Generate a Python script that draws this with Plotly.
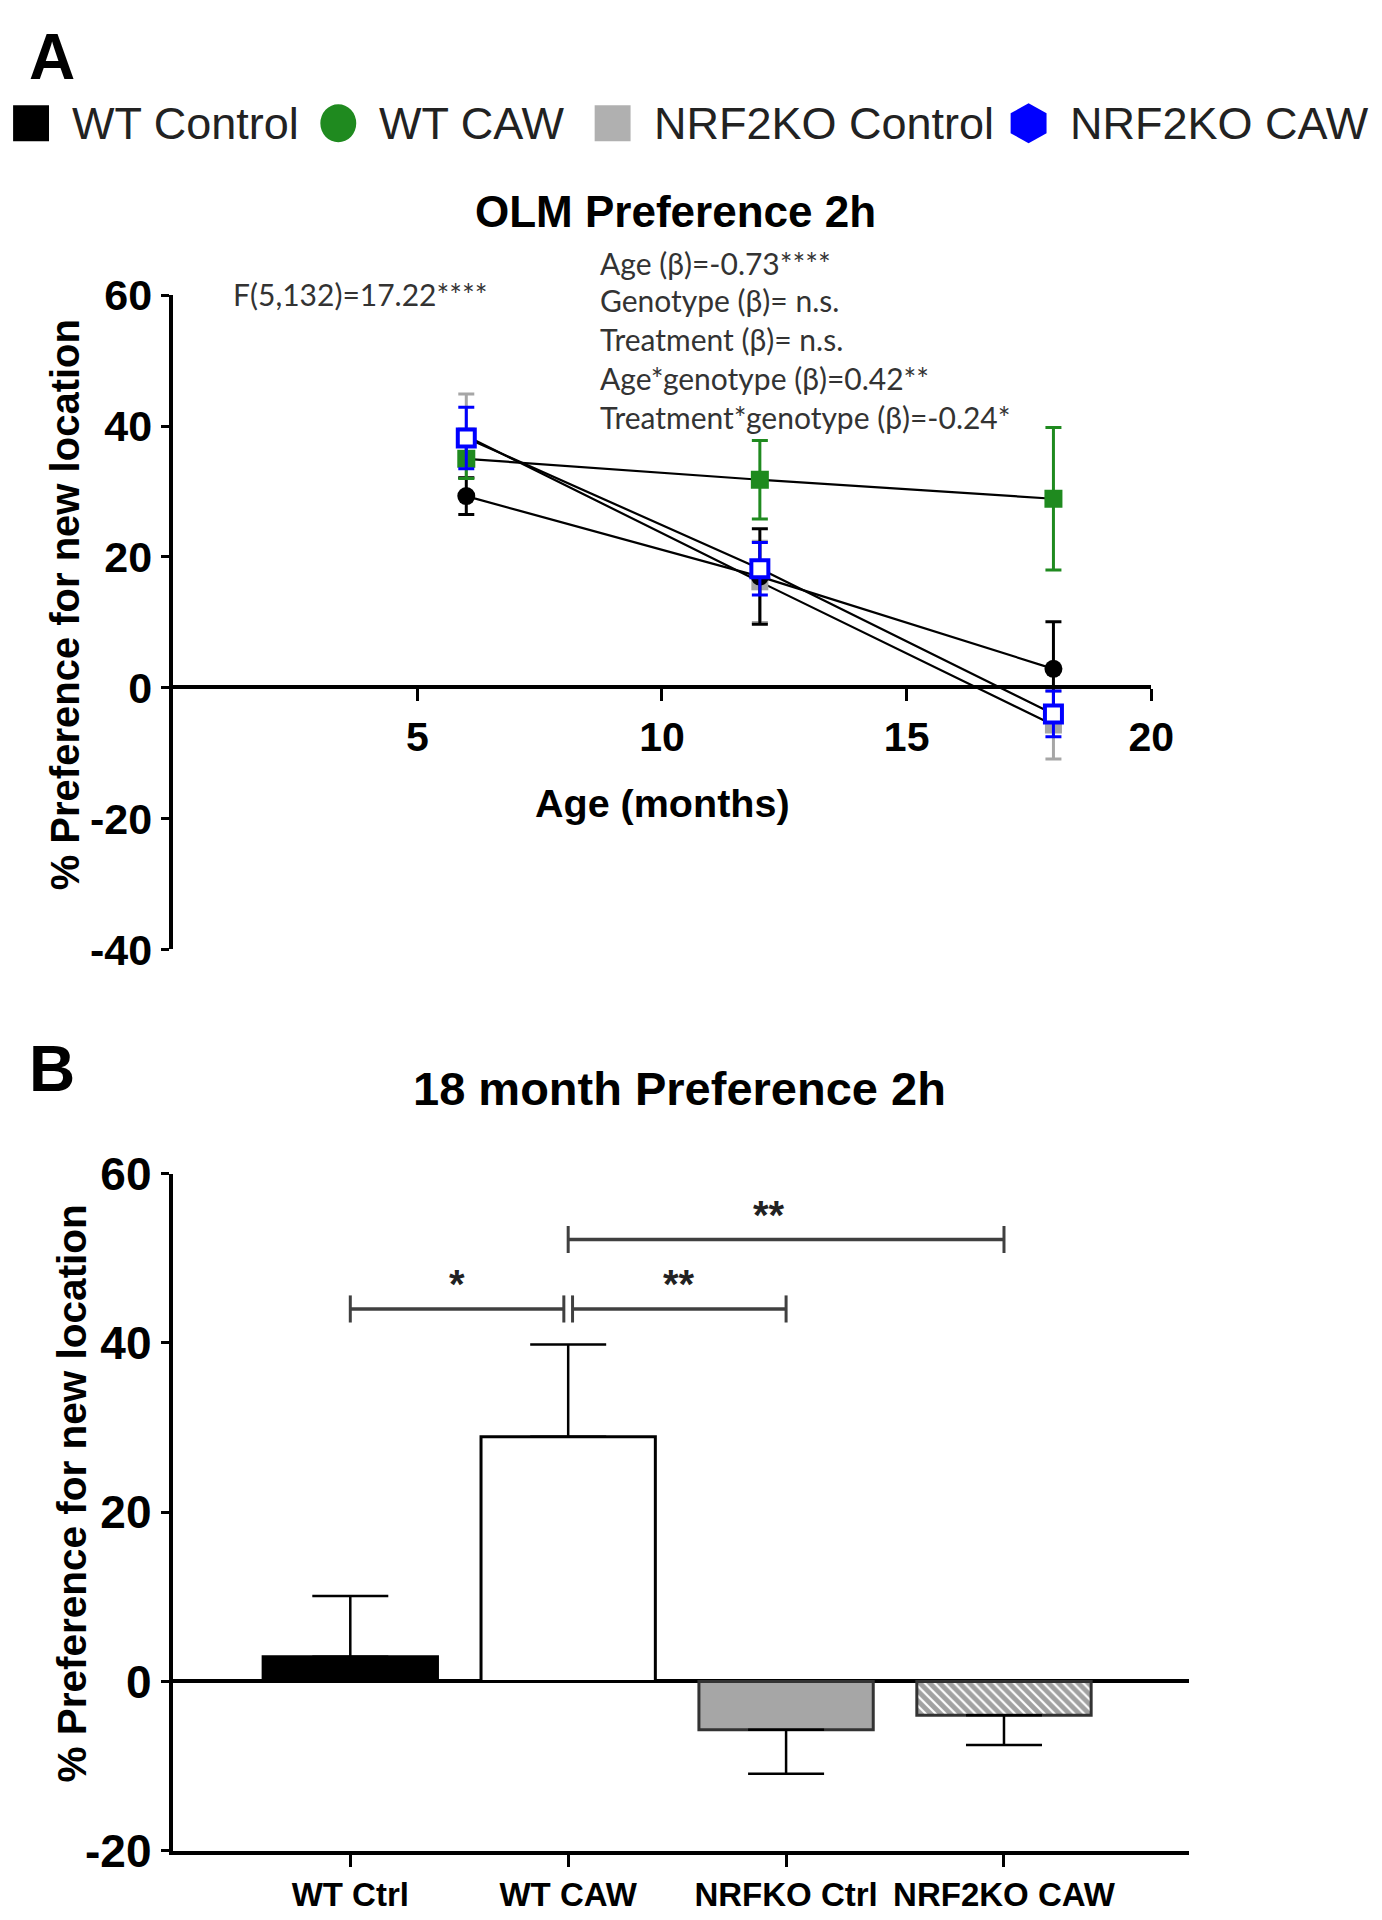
import plotly.graph_objects as go

# figure size (px) and mapping from the reference frame to figure pixels
FW, FH = 1400, 1945
SX, OX = 0.986, -2.0      # observed capture scale / offset (x)
SY, OY = 0.973, 26.0      # observed capture scale / offset (y)
PAD = 8                   # body margin

# ---------------- data ----------------
ages = [6, 12, 18]
wt_ctrl_mean = [29.3, 17.0, 2.9]
wt_ctrl_sem = [2.8, 7.3, 7.2]
wt_caw_mean = [35.0, 31.8, 28.9]
wt_caw_sem = [3.0, 6.0, 10.9]
ko_ctrl_mean = [38.5, 16.2, -5.7]
ko_ctrl_sem = [6.4, 6.2, 5.2]
ko_caw_mean = [38.2, 18.2, -4.0]
ko_caw_sem = [4.7, 4.0, 3.5]

legend_labels = ["WT Control", "WT CAW", "NRF2KO Control", "NRF2KO CAW"]

bar_cats = ["WT Ctrl", "WT CAW", "NRFKO Ctrl", "NRF2KO CAW"]
bar_means = [2.9, 28.9, -5.7, -4.0]
bar_sems = [7.2, 10.9, 5.2, 3.5]

age_ticks = [5, 10, 15, 20]
a_yticks = [-40, -20, 0, 20, 40, 60]
b_yticks = [-20, 0, 20, 40, 60]

f_stat = "F(5,132)=17.22****"
stats_lines = ["Age (β)=-0.73****", "Genotype (β)= n.s.", "Treatment (β)= n.s.",
               "Age*genotype (β)=0.42**", "Treatment*genotype (β)=-0.24*"]

# comparisons: (from index, to index, height, label)
comparisons = [(0, 1, 44.0, "*"), (1, 2, 44.0, "**"), (1, 3, 52.2, "**")]

# ---------------- helpers (reference-frame px -> paper) ----------------
def fx(t):
    return (t - OX) / SX - PAD

def fy(t):
    return (t - OY) / SY - PAD

def P(t):
    return fx(t) / FW

def Q(t):
    return 1 - fy(t) / FH

BLACK = "#000000"
GREEN = "#1f8a1f"
GRAY = "#a6a6a6"
BLUE = "#0000ff"
FONT = "Liberation Sans, Arial, sans-serif"
CAL = "Lato, Carlito, sans-serif"

fig = go.Figure()

# ---------------- panel A ----------------
series = [
    (legend_labels[2], ko_ctrl_mean, ko_ctrl_sem, dict(symbol="square", size=17, color=GRAY), GRAY),
    (legend_labels[0], wt_ctrl_mean, wt_ctrl_sem, dict(symbol="circle", size=18, color=BLACK), BLACK),
    (legend_labels[1], wt_caw_mean, wt_caw_sem, dict(symbol="square", size=18, color=GREEN), GREEN),
    (legend_labels[3], ko_caw_mean, ko_caw_sem,
     dict(symbol="square", size=17, color="white", line=dict(color=BLUE, width=4)), BLUE),
]
for name, m, s, mk, col in series:
    fig.add_trace(go.Scatter(
        x=ages, y=m, name=name, mode="lines+markers",
        line=dict(color="black", width=2.2), marker=mk,
        error_y=dict(type="data", array=s, color=col, thickness=3, width=8),
        showlegend=False, xaxis="x", yaxis="y",
    ))

# ---------------- panel B ----------------
bar_x = list(range(len(bar_cats)))
fig.add_trace(go.Bar(
    x=bar_x, y=bar_means, width=0.8, xaxis="x2", yaxis="y2", showlegend=False,
    marker=dict(
        color=["#000000", "#ffffff", GRAY, "#ffffff"],
        line=dict(color=["#000000", "#000000", "#333333", "#333333"], width=3),
        pattern=dict(shape=["", "", "", "\\"], fgcolor="#1a1a1a", bgcolor="#f2f2f2",
                     size=7, solidity=0.7),
    ),
    error_y=dict(type="data",
                 array=[s if m > 0 else 0 for m, s in zip(bar_means, bar_sems)],
                 arrayminus=[s if m < 0 else 0 for m, s in zip(bar_means, bar_sems)],
                 color="black", thickness=2.5, width=38),
))

shapes = []
annotations = []
for i0, i1, yv, lab in comparisons:
    a = bar_x[i0] + (0.02 if i0 == 1 and yv < 50 else 0)
    b = bar_x[i1] - (0.02 if i1 == 1 else 0)
    shapes.append(dict(type="line", xref="x2", yref="y2", x0=a, x1=b, y0=yv, y1=yv,
                       line=dict(color="#404040", width=3.5)))
    for xe in (a, b):
        shapes.append(dict(type="line", xref="x2", yref="y2", x0=xe, x1=xe, y0=yv - 1.6, y1=yv + 1.6,
                           line=dict(color="#404040", width=3)))
    annotations.append(dict(x=(a + b) / 2 - (0.08 if (i1 - i0) > 1 else 0), y=yv + 2.9, xref="x2", yref="y2",
                            text="<b>" + lab + "</b>", showarrow=False,
                            font=dict(family=FONT, size=40, color="#222"), yanchor="middle"))

# ---------------- legend (drawn) ----------------
leg_y = 123
leg_items = [
    (legend_labels[0], BLACK, "square", 29, 68),
    (legend_labels[1], GREEN, "circle", 337, 376),
    (legend_labels[2], "#b0b0b0", "square", 612, 651),
    (legend_labels[3], BLUE, "hex", 1029, 1069),
]
for lab, col, sym, cx, tx in leg_items:
    if sym == "square":
        shapes.append(dict(type="rect", xref="paper", yref="paper",
                           x0=P(cx - 18), x1=P(cx + 18), y0=Q(leg_y + 18), y1=Q(leg_y - 18),
                           fillcolor=col, line=dict(width=0)))
    elif sym == "circle":
        shapes.append(dict(type="circle", xref="paper", yref="paper",
                           x0=P(cx - 18), x1=P(cx + 18), y0=Q(leg_y + 19), y1=Q(leg_y - 19),
                           fillcolor=col, line=dict(width=0)))
    else:
        pts = [(0, -20), (18, -10), (18, 10), (0, 20), (-18, 10), (-18, -10)]
        path = "M " + " L ".join(f"{P(cx + dx):.5f},{Q(leg_y + dy):.5f}" for dx, dy in pts) + " Z"
        shapes.append(dict(type="path", xref="paper", yref="paper", path=path,
                           fillcolor=col, line=dict(width=0)))
    annotations.append(dict(x=P(tx), y=Q(leg_y), xref="paper", yref="paper", text=lab,
                            showarrow=False, xanchor="left", yanchor="middle",
                            font=dict(family=FONT, size=45, color="#222")))

# ---------------- texts ----------------
def txt(x, y, t, size, bold=True, angle=0, xanchor="center", family=FONT, color="#000", yanchor="middle"):
    annotations.append(dict(x=P(x), y=Q(y), xref="paper", yref="paper",
                            text=("<b>" + t + "</b>") if bold else t, showarrow=False,
                            textangle=angle, xanchor=xanchor, yanchor=yanchor,
                            font=dict(family=family, size=size, color=color)))

# "A" pinned to the very top of the figure
annotations.append(dict(x=P(50), y=1.0, xref="paper", yref="paper", text="<b>A</b>", showarrow=False,
                        xanchor="center", yanchor="top", yshift=15,
                        font=dict(family=FONT, size=64, color="#000")))
txt(50, 1069, "B", 64)
txt(675, 211, "OLM Preference 2h", 44)
txt(679, 1088, "18 month Preference 2h", 47)
txt(63, 604, "% Preference for new location", 40, angle=-90)
txt(70, 1493, "% Preference for new location", 40.5, angle=-90)
txt(662, 803, "Age (months)", 39.5)

txt(229, 294, f_stat, 30, bold=False, xanchor="left", family=CAL, color="#333")
stat_y = [263, 300, 339, 378, 417]
for yy, t in zip(stat_y, stats_lines):
    txt(597, yy, t, 30, bold=False, xanchor="left", family=CAL, color="#333")

# ---------------- layout ----------------
def lab(v):
    return "<b>" + str(v) + "</b>"

axis_common = dict(ticks="outside", tickwidth=3, tickcolor="black", showline=True, linewidth=4,
                   linecolor="black", showgrid=False)
fig.update_layout(
    width=FW, height=FH, margin=dict(l=0, r=0, t=0, b=0),
    paper_bgcolor="white", plot_bgcolor="rgba(0,0,0,0)",
    xaxis=dict(domain=[P(171), P(1152)], range=[0, 20], anchor="free", position=Q(687),
               tickvals=age_ticks, ticktext=[lab(v) for v in age_ticks], ticklen=12, zeroline=False,
               tickfont=dict(family=FONT, size=41, color="black"), ticklabelstandoff=0, **axis_common),
    yaxis=dict(domain=[Q(949), Q(295)], range=[-40, 60], anchor="x",
               tickvals=a_yticks, ticktext=[lab(v) for v in a_yticks], ticklen=8, zeroline=False,
               tickfont=dict(family=FONT, size=43, color="black"), ticklabelstandoff=0, **axis_common),
    xaxis2=dict(domain=[P(171), P(1190)], range=[-0.815, 3.85], anchor="y2",
                tickvals=bar_x, ticktext=[lab(c) for c in bar_cats], ticklen=12, zeroline=False,
                tickfont=dict(family=FONT, size=33, color="black"), ticklabelstandoff=0, **axis_common),
    yaxis2=dict(domain=[Q(1850), Q(1173)], range=[-20, 60], anchor="x2",
                tickvals=b_yticks, ticktext=[lab(v) for v in b_yticks], ticklen=8,
                zeroline=True, zerolinecolor="black", zerolinewidth=4,
                tickfont=dict(family=FONT, size=46, color="black"), ticklabelstandoff=0, **axis_common),
    shapes=shapes, annotations=annotations, showlegend=False,
)

fig.write_html("out.html")
